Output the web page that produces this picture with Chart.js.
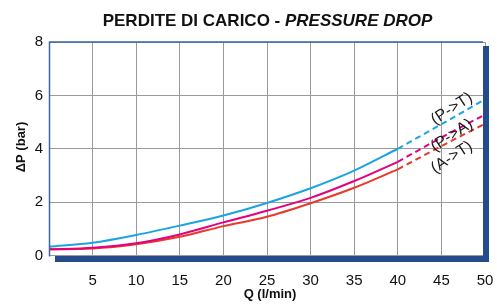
<!DOCTYPE html>
<html>
<head>
<meta charset="utf-8">
<script src="https://cdn.jsdelivr.net/npm/chart.js@4.4.0/dist/chart.umd.min.js"></script>
<style>
  body { margin: 0; background: #fff; }
  #wrap { width: 497px; height: 307px; }
</style>
</head>
<body>
<div id="wrap"><canvas id="dropChart" width="497" height="307"></canvas></div>
<script>
// flow rate (l/min) and pressure drop (bar)
const qSolid = [0, 5, 10, 15, 20, 25, 30, 35, 40];
const qDashed = [40, 45, 50];

const ptSolid = [0.33, 0.48, 0.77, 1.12, 1.50, 1.97, 2.52, 3.18, 4.00];
const ptDashed = [4.00, 4.92, 5.85];

const paSolid = [0.23, 0.29, 0.46, 0.79, 1.24, 1.68, 2.16, 2.79, 3.51];
const paDashed = [3.51, 4.42, 5.28];

const atSolid = [0.23, 0.26, 0.42, 0.70, 1.10, 1.45, 1.96, 2.54, 3.23];
const atDashed = [3.23, 4.10, 4.94];

const curveNames = ['(P->T)', '(P->A)', '(A->T)'];
const xTicks = [5, 10, 15, 20, 25, 30, 35, 40, 45, 50];
const yTicks = [0, 2, 4, 6, 8];

const colors = ['#1ba3e3', '#e4007f', '#e8392b'];
const frameBlue = '#244b8b';
const font = "'Liberation Sans', Arial, sans-serif";

// where the rotated curve names sit (in chart units)
const nameSpots = [
  { x: 46.2, y: 5.5 },
  { x: 46.2, y: 4.5 },
  { x: 46.2, y: 3.68 }
];

function points(xs, ys) {
  return xs.map((x, i) => ({ x: x, y: ys[i] }));
}

function line(data, color, dashed) {
  return {
    data: data,
    borderColor: color,
    borderWidth: 2,
    borderDash: dashed ? [6, 4] : [],
    pointRadius: 0,
    fill: false,
    cubicInterpolationMode: 'monotone'
  };
}

// title, axis names, frame and curve names
const decorations = {
  id: 'decorations',
  afterDraw(chart) {
    const c = chart.ctx;
    const a = chart.chartArea;
    const xs = chart.scales.x;
    const ys = chart.scales.y;

    c.save();
    // main title, two styles
    c.fillStyle = '#111';
    c.textBaseline = 'alphabetic';
    const t1 = 'PERDITE DI CARICO - ';
    const t2 = 'PRESSURE DROP';
    c.font = 'bold 17px ' + font;
    const w1 = c.measureText(t1).width;
    c.font = 'italic bold 17px ' + font;
    const w2 = c.measureText(t2).width;
    const start = 267.5 - (w1 + w2) / 2;
    c.font = 'bold 17px ' + font;
    c.textAlign = 'left';
    c.fillText(t1, start, 25.5);
    c.font = 'italic bold 17px ' + font;
    c.fillText(t2, start + w1, 25.5);

    // axis titles
    c.font = 'bold 13px ' + font;
    c.textAlign = 'center';
    c.textBaseline = 'middle';
    c.fillText('Q (l/min)', 270, 294);
    c.save();
    c.translate(21, 147);
    c.rotate(-Math.PI / 2);
    c.fillText('\u0394P (bar)', 0, 0);
    c.restore();

    // frame: thin top/left, thick shadow right/bottom
    c.strokeStyle = '#3c64a6';
    c.lineWidth = 1.5;
    c.beginPath();
    c.moveTo(a.left + 0.5, a.bottom + 1);
    c.lineTo(a.left + 0.5, a.top);
    c.lineTo(a.right - 2, a.top);
    c.stroke();
    c.fillStyle = frameBlue;
    c.fillRect(a.right - 2, a.top + 4, 6, a.bottom - a.top + 2.5);
    c.fillRect(a.left + 6, a.bottom + 0.5, a.right - a.left - 2, 6);

    // curve names
    c.fillStyle = '#1a1a1a';
    c.font = '16px ' + font;
    nameSpots.forEach((s, i) => {
      c.save();
      c.translate(xs.getPixelForValue(s.x), ys.getPixelForValue(s.y));
      c.rotate(-33 * Math.PI / 180);
      c.fillText(curveNames[i], 0, 0);
      c.restore();
    });
    c.restore();
  }
};

const ctx = document.getElementById('dropChart').getContext('2d');
new Chart(ctx, {
  type: 'line',
  data: {
    datasets: [
      line(points(qSolid, ptSolid), colors[0], false),
      line(points(qDashed, ptDashed), colors[0], true),
      line(points(qSolid, paSolid), colors[1], false),
      line(points(qDashed, paDashed), colors[1], true),
      line(points(qSolid, atSolid), colors[2], false),
      line(points(qDashed, atDashed), colors[2], true)
    ]
  },
  options: {
    responsive: false,
    animation: false,
    layout: { padding: { top: 42, right: 12, left: 0, bottom: 0 } },
    plugins: {
      legend: { display: false },
      tooltip: { enabled: false }
    },
    scales: {
      x: {
        type: 'linear',
        min: 0,
        max: 50,
        afterBuildTicks(scale) {
          scale.ticks = [0].concat(xTicks).map(v => ({ value: v }));
        },
        afterFit(scale) {
          scale.height = 51.5;
          scale.paddingLeft = 0;
          scale.paddingRight = 0;
        },
        border: { display: false },
        grid: { color: '#9a9a9a', lineWidth: 1, drawTicks: false },
        ticks: {
          padding: 16,
          color: '#111',
          font: { family: font, size: 15 },
          maxRotation: 0,
          autoSkip: false,
          callback: v => (v === 0 ? '' : v)
        }
      },
      y: {
        min: 0,
        max: 8,
        afterBuildTicks(scale) {
          scale.ticks = yTicks.map(v => ({ value: v }));
        },
        afterFit(scale) {
          scale.width = 49;
          scale.paddingTop = 0;
          scale.paddingBottom = 0;
        },
        border: { display: false },
        grid: { color: '#9a9a9a', lineWidth: 1, drawTicks: false },
        ticks: {
          padding: 6,
          color: '#111',
          font: { family: font, size: 15 }
        }
      }
    }
  },
  plugins: [decorations]
});
</script>
</body>
</html>
